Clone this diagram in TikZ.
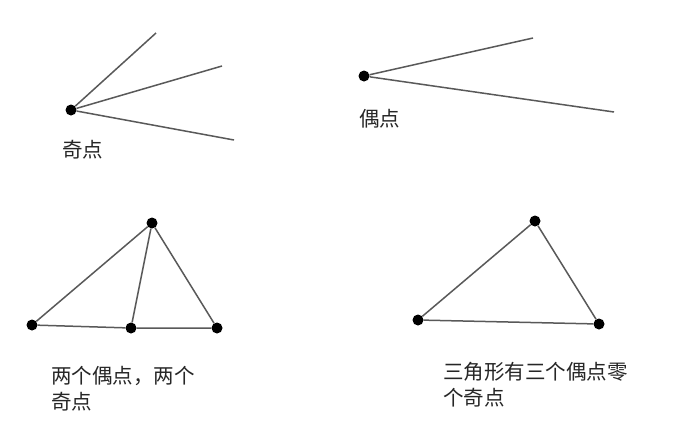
\documentclass[tikz,border=0pt]{standalone}
\usepackage{fontspec}
\newfontfamily\cjk{Noto Sans CJK SC}
\begin{document}
\begin{tikzpicture}[x=1pt,y=-1pt,
  dot/.style={circle,fill=black,inner sep=0pt,minimum size=11pt},
  edge/.style={draw=black!65,line width=1.5pt},
  lbl/.style={inner sep=0pt,anchor=west,align=left,text=black!85,font=\cjk\fontsize{20.5}{26}\selectfont}]
\useasboundingbox[fill=white] (0,0) rectangle (700,432);
% top left: odd vertex
\node[dot] (o) at (71,110) {};
\coordinate (o1) at (156,33);
\coordinate (o2) at (222,66);
\coordinate (o3) at (234,140);
\draw[edge] (o) -- (o1) (o) -- (o2) (o) -- (o3);
\node[lbl] (ol) at (62,150) {奇点};
% top right: even vertex
\node[dot] (e) at (364,76) {};
\coordinate (e1) at (533,38);
\coordinate (e2) at (614,112);
\draw[edge] (e) -- (e1) (e) -- (e2);
\node[lbl] (el) at (359,119) {偶点};
% bottom left
\node[dot] (a) at (152,223) {};
\node[dot] (b) at (32,325) {};
\node[dot] (c) at (131,328) {};
\node[dot] (d) at (217,328) {};
\draw[edge] (a) -- (b) (a) -- (c) (a) -- (d) (b) -- (c) (c) -- (d);
\node[lbl] (bl) at (51,389) {两个偶点，两个\\奇点};
% bottom right
\node[dot] (p) at (535,221) {};
\node[dot] (q) at (418,320) {};
\node[dot] (r) at (599,324) {};
\draw[edge] (p) -- (q) (q) -- (r) (r) -- (p);
\node[lbl] (br) at (443,385) {三角形有三个偶点零\\个奇点};
\end{tikzpicture}
\end{document}
